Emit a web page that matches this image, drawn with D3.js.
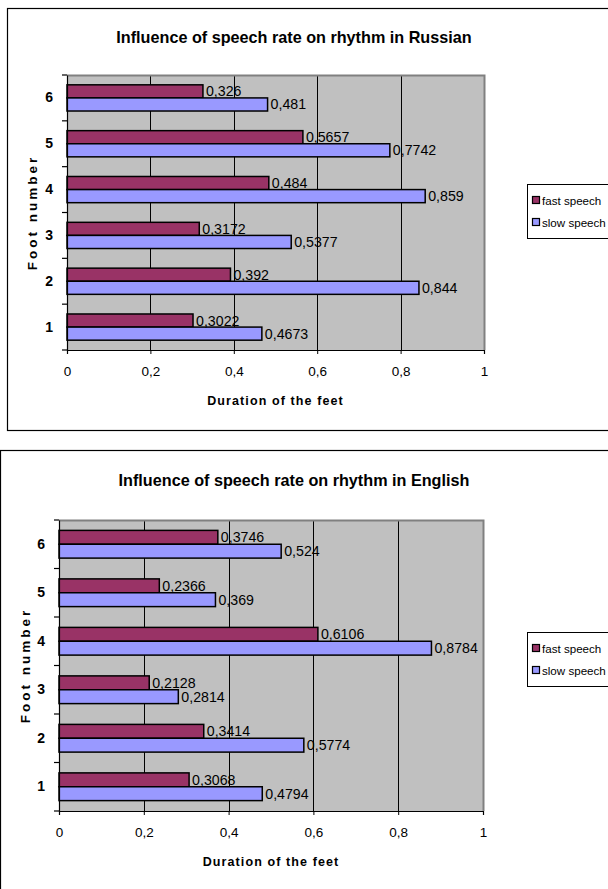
<!DOCTYPE html>
<html>
<head>
<meta charset="utf-8">
<script src="https://cdn.jsdelivr.net/npm/d3@7"></script>
<style>
  html, body { margin: 0; padding: 0; background: #fff; }
  svg { display: block; font-family: "Liberation Sans", Arial, sans-serif; }
</style>
</head>
<body>
<svg id="chart" width="608" height="889"></svg>
<script>
// Foot numbers (bottom to top) and durations per speech rate
const feet = ["1", "2", "3", "4", "5", "6"];
const xTicks = [0, 0.2, 0.4, 0.6, 0.8, 1];
const seriesNames = ["fast speech", "slow speech"];
const seriesColors = ["#993366", "#9999FF"];

const russianFast = [0.3022, 0.392, 0.3172, 0.484, 0.5657, 0.326];
const russianSlow = [0.4673, 0.844, 0.5377, 0.859, 0.7742, 0.481];
const englishFast = [0.3068, 0.3414, 0.2128, 0.6106, 0.2366, 0.3746];
const englishSlow = [0.4794, 0.5774, 0.2814, 0.8784, 0.369, 0.524];

const FONT = "'Liberation Sans', Arial, sans-serif";
const svg = d3.select("#chart");
const fmt = v => String(v).replace(".", ",");

function drawChart(cfg) {
  const g = svg.append("g");

  // outer chart frame
  g.append("rect")
    .attr("x", cfg.frame.x + 0.5).attr("y", cfg.frame.y + 0.5)
    .attr("width", cfg.frame.w).attr("height", cfg.frame.h)
    .attr("fill", "#fff").attr("stroke", "#000").attr("stroke-width", 1.2);

  const x = d3.scaleLinear().domain([0, 1]).range([cfg.plot.left, cfg.plot.right]);
  const y = d3.scaleBand().domain(feet.slice().reverse())
    .range([cfg.plot.top, cfg.plot.bottom]).paddingInner(0).paddingOuter(0);
  // each group of two bars with a 150% gap
  const barH = y.bandwidth() / 3.5;

  // plot background
  g.append("rect")
    .attr("x", cfg.plot.left).attr("y", cfg.plot.top)
    .attr("width", cfg.plot.right - cfg.plot.left)
    .attr("height", cfg.plot.bottom - cfg.plot.top)
    .attr("fill", "#C0C0C0");

  // vertical gridlines
  g.selectAll(".grid").data(xTicks.slice(1, -1)).join("line")
    .attr("x1", d => Math.round(x(d)) + 0.5).attr("x2", d => Math.round(x(d)) + 0.5)
    .attr("y1", cfg.plot.top).attr("y2", cfg.plot.bottom)
    .attr("stroke", "#000").attr("stroke-width", 1);

  // plot border (top & right grey)
  g.append("path")
    .attr("d", `M${cfg.plot.left},${cfg.plot.top + 0.5}H${cfg.plot.right + 0.5}V${cfg.plot.bottom}`)
    .attr("fill", "none").attr("stroke", "#808080").attr("stroke-width", 2);

  const rows = feet.map((f, i) => ({ foot: f, vals: [cfg.fast[i], cfg.slow[i]] }));

  const grp = g.selectAll(".row").data(rows).join("g")
    .attr("transform", d => `translate(0,${y(d.foot) + (y.bandwidth() - 2 * barH) / 2})`);

  grp.selectAll("rect").data(d => d.vals.map((v, k) => ({ v, k }))).join("rect")
    .attr("x", x(0))
    .attr("y", d => d.k * barH)
    .attr("width", d => x(d.v) - x(0))
    .attr("height", barH)
    .attr("fill", d => seriesColors[d.k])
    .attr("stroke", "#000").attr("stroke-width", 1.5);

  grp.selectAll("text").data(d => d.vals.map((v, k) => ({ v, k }))).join("text")
    .attr("x", d => x(d.v) + 3)
    .attr("y", d => d.k * barH + barH / 2 + 5)
    .attr("font-size", 14.2).attr("fill", "#000")
    .text(d => fmt(d.v));

  // axes
  const xAxis = d3.axisBottom(x).tickValues(xTicks).tickSize(4).tickFormat(fmt);
  const ax = g.append("g").attr("transform", `translate(0,${cfg.plot.bottom})`).call(xAxis);
  ax.select(".domain").attr("stroke", "#000").attr("stroke-width", 1.2);
  ax.selectAll(".tick line").attr("stroke", "#000");
  ax.selectAll(".tick text").attr("font-size", 13.5).attr("dy", "1.4em")
    .attr("font-family", FONT).attr("fill", "#000");

  const yAxis = d3.axisLeft(y).tickSize(0).tickPadding(14);
  const ay = g.append("g").attr("transform", `translate(${cfg.plot.left},0)`).call(yAxis);
  ay.select(".domain").attr("stroke", "#000").attr("stroke-width", 1.2);
  ay.selectAll(".tick text").attr("font-size", 14).attr("font-weight", "bold")
    .attr("font-family", FONT).attr("fill", "#000");
  // ticks on category boundaries
  const bounds = feet.map(f => y(f)).concat([cfg.plot.bottom]);
  ay.selectAll(".bound").data(bounds).join("line")
    .attr("x1", -5).attr("x2", 0).attr("y1", d => d).attr("y2", d => d)
    .attr("stroke", "#000").attr("stroke-width", 1.2);

  // titles
  g.append("text")
    .attr("x", cfg.titleX).attr("y", cfg.titleY)
    .attr("text-anchor", "middle").attr("font-size", 16.2).attr("font-weight", "bold")
    .text(cfg.title);
  g.append("text")
    .attr("x", (cfg.plot.left + cfg.plot.right) / 2).attr("y", cfg.plot.bottom + 55)
    .attr("text-anchor", "middle").attr("font-size", 12.5).attr("font-weight", "bold")
    .attr("letter-spacing", 1.1)
    .text("Duration of the feet");
  g.append("text")
    .attr("transform", `translate(${cfg.yTitleX},${(cfg.plot.top + cfg.plot.bottom) / 2}) rotate(-90)`)
    .attr("text-anchor", "middle").attr("font-size", 13.5).attr("font-weight", "bold")
    .attr("letter-spacing", 3)
    .text("Foot number");

  // legend
  const lg = g.append("g").attr("transform", `translate(${cfg.legend.x},${cfg.legend.y})`);
  lg.append("rect").attr("x", 0.5).attr("y", 0.5).attr("width", 100).attr("height", 54)
    .attr("fill", "#fff").attr("stroke", "#000").attr("stroke-width", 1);
  seriesNames.forEach((name, k) => {
    const yy = 21 + k * 22;
    lg.append("rect").attr("x", 5.5).attr("y", yy - 8.5).attr("width", 7).attr("height", 7)
      .attr("fill", seriesColors[k]).attr("stroke", "#000").attr("stroke-width", 1.2);
    lg.append("text").attr("x", 15).attr("y", yy).attr("font-size", 11.6).text(name);
  });
}

drawChart({
  title: "Influence of speech rate on rhythm in Russian",
  titleX: 294, titleY: 43,
  frame: { x: 7, y: 8, w: 620, h: 422 },
  plot: { left: 67, right: 484, top: 75, bottom: 350 },
  yTitleX: 37,
  legend: { x: 527, y: 184 },
  fast: russianFast, slow: russianSlow
});

drawChart({
  title: "Influence of speech rate on rhythm in English",
  titleX: 294, titleY: 486,
  frame: { x: 0, y: 450, w: 620, h: 460 },
  plot: { left: 59, right: 483, top: 520, bottom: 811 },
  yTitleX: 30,
  legend: { x: 527, y: 632 },
  fast: englishFast, slow: englishSlow
});
</script>
</body>
</html>
